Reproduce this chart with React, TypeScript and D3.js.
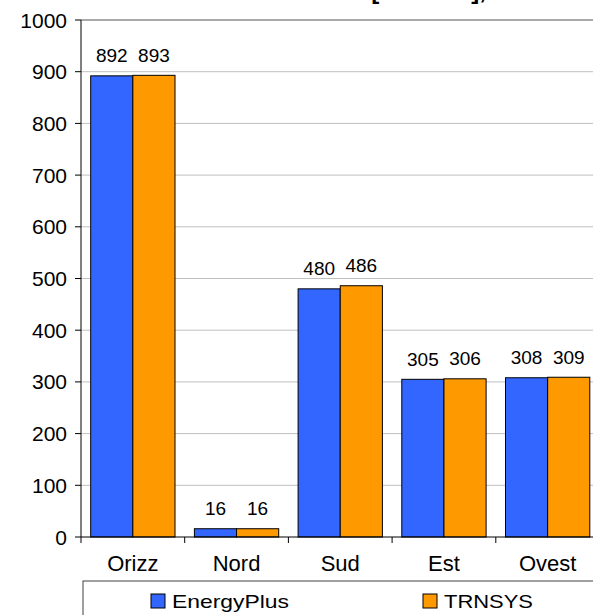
import React from "react";
import * as d3 from "d3";

const categories = ["Orizz", "Nord", "Sud", "Est", "Ovest"];
const seriesNames = ["EnergyPlus", "TRNSYS"];
const energyPlus = [892, 16, 480, 305, 308];
const trnsys = [893, 16, 486, 306, 309];
const yTicks = [0, 100, 200, 300, 400, 500, 600, 700, 800, 900, 1000];
const colors = ["#3366FF", "#FF9900"];
const title = "Radiazione diretta incidente [kWh/m2], anno";

export default function App() {
  const W = 593, H = 615;
  const left = 81, right = 599.5, top = 20, bottom = 537;
  const x = d3.scaleBand<string>().domain(categories).range([left, right]).paddingInner(0).paddingOuter(0);
  const xs = d3.scaleBand<string>().domain(seriesNames).range([0, x.bandwidth()]).paddingInner(0).paddingOuter(0.23);
  const y = d3.scaleLinear().domain([0, 1000]).range([bottom, top]);
  const values = [energyPlus, trnsys];
  const font = "Arial, 'Liberation Sans', sans-serif";
  const legendX = [151, 423];
  const legendLen = [117, 89];

  return (
    <svg width={W} height={H} style={{ position: "absolute", left: 0, top: 0, background: "#fff" }} fontFamily={font}>
      <rect x={0} y={0} width={W} height={H} fill="#fff" />
      <text x={550} y={-1} textAnchor="end" fontSize={24} fontWeight="bold" fill="#000">{title}</text>
      {yTicks.filter(t => t > 0 && t < 1000).map(t => (
        <line key={"g" + t} x1={left} x2={W} y1={y(t)} y2={y(t)} stroke="#c0c0c0" strokeWidth={1} />
      ))}
      <line x1={left} x2={W} y1={y(1000)} y2={y(1000)} stroke="#555" strokeWidth={1} />
      {categories.map((c, i) =>
        seriesNames.map((s, j) => {
          const v = values[j][i];
          const bx = (x(c) as number) + (xs(s) as number);
          return (
            <g key={c + s}>
              <rect x={bx} y={y(v)} width={xs.bandwidth()} height={bottom - y(v)} fill={colors[j]} stroke="#000" strokeWidth={1} />
              <text x={bx + xs.bandwidth() / 2} y={y(v) - 13.5} textAnchor="middle" fontSize={19} fill="#000">{v}</text>
            </g>
          );
        })
      )}
      <line x1={left} x2={left} y1={top} y2={bottom + 6} stroke="#000" strokeWidth={1} />
      <line x1={left} x2={W} y1={bottom} y2={bottom} stroke="#000" strokeWidth={1} />
      {yTicks.map(t => (
        <g key={"t" + t}>
          <line x1={left - 6} x2={left} y1={y(t)} y2={y(t)} stroke="#000" />
          <text x={67} y={y(t)} dy="0.36em" textAnchor="end" fontSize={21} fill="#000">{t}</text>
        </g>
      ))}
      {categories.map((c, i) => (
        <g key={"c" + c}>
          {i > 0 && <line x1={x(c)} x2={x(c)} y1={bottom} y2={bottom + 6} stroke="#000" />}
          <text x={(x(c) as number) + x.bandwidth() / 2} y={571} textAnchor="middle" fontSize={22} fill="#000">{c}</text>
        </g>
      ))}
      <rect x={83} y={581} width={W} height={60} fill="none" stroke="#404040" strokeWidth={1} />
      {seriesNames.map((s, j) => {
        const lx = legendX[j];
        return (
          <g key={"l" + s}>
            <rect x={lx} y={594} width={14} height={14} fill={colors[j]} stroke="#000" strokeWidth={1} />
            <text x={lx + 21} y={608} fontSize={19} fill="#000" textLength={legendLen[j]} lengthAdjust="spacingAndGlyphs">{s}</text>
          </g>
        );
      })}
    </svg>
  );
}
